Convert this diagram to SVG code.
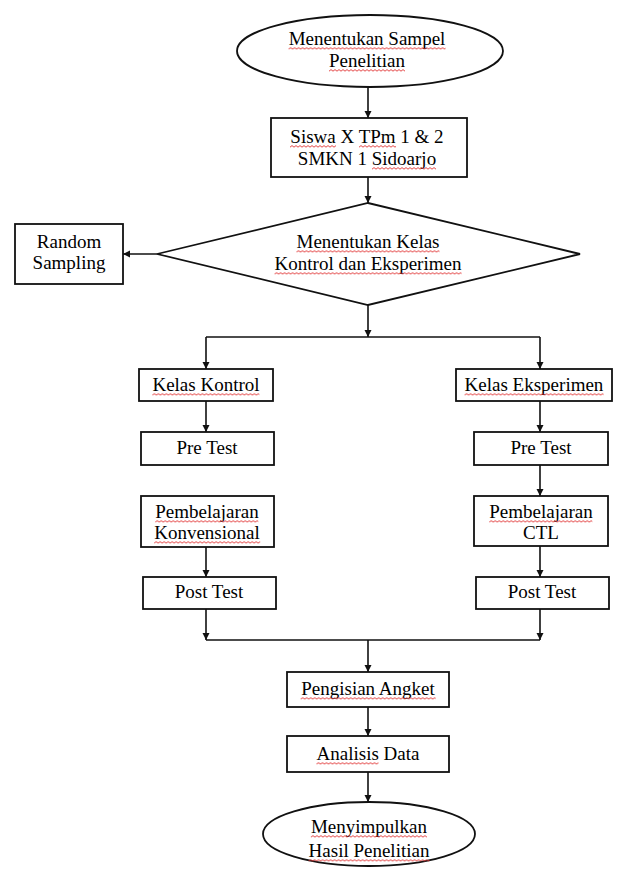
<svg xmlns="http://www.w3.org/2000/svg" width="626" height="869" viewBox="0 0 626 869">
<defs>
<style>
.n{fill:#fff;stroke:#111;stroke-width:1.8}
.t{font-family:"Liberation Serif","Times New Roman",serif;font-size:19px;fill:#000;text-anchor:middle}
.c{fill:none;stroke:#111;stroke-width:1.6}
.sq{fill:url(#sqp)}
</style>
<pattern id="sqp" patternUnits="userSpaceOnUse" width="4" height="3">
<path d="M0,2.2 L2,0.6 L4,2.2" fill="none" stroke="#e03030" stroke-width="0.9"/>
</pattern>
<marker id="ah" markerUnits="userSpaceOnUse" markerWidth="8" markerHeight="8" refX="7" refY="3.5" orient="auto">
<path d="M0,0 L7,3.5 L0,7 z" fill="#111"/>
</marker>
</defs>
<rect width="626" height="869" fill="#fff"/>

<g id="connectors" class="c">
<line x1="368" y1="87" x2="368" y2="118" marker-end="url(#ah)"/>
<line x1="368" y1="177" x2="368" y2="203" marker-end="url(#ah)"/>
<line x1="157" y1="254" x2="123" y2="254" marker-end="url(#ah)"/>
<line x1="368" y1="305" x2="368" y2="337" marker-end="url(#ah)"/>
<line x1="206" y1="337" x2="540" y2="337"/>
<line x1="206" y1="337" x2="206" y2="369" marker-end="url(#ah)"/>
<line x1="540" y1="337" x2="540" y2="369" marker-end="url(#ah)"/>
<line x1="206" y1="401" x2="206" y2="432" marker-end="url(#ah)"/>
<line x1="540" y1="401" x2="540" y2="432" marker-end="url(#ah)"/>
<line x1="540" y1="465" x2="540" y2="496" marker-end="url(#ah)"/>
<line x1="206" y1="547" x2="206" y2="577" marker-end="url(#ah)"/>
<line x1="540" y1="546" x2="540" y2="577" marker-end="url(#ah)"/>
<line x1="206" y1="609" x2="206" y2="640" marker-end="url(#ah)"/>
<line x1="540" y1="609" x2="540" y2="640" marker-end="url(#ah)"/>
<line x1="206" y1="640" x2="540" y2="640"/>
<line x1="368" y1="640" x2="368" y2="672" marker-end="url(#ah)"/>
<line x1="368" y1="707" x2="368" y2="736" marker-end="url(#ah)"/>
<line x1="368" y1="772" x2="368" y2="802" marker-end="url(#ah)"/>
</g>

<g id="start">
<ellipse class="n" cx="370" cy="51" rx="133" ry="36"/>
<text class="t" x="367" y="45">Menentukan Sampel</text>
<text class="t" x="367" y="67">Penelitian</text>
<rect class="sq" transform="translate(288.6,47)" width="157" height="3"/>
<rect class="sq" transform="translate(329,69)" width="76" height="3"/>
</g>

<g id="siswa">
<rect class="n" x="271" y="118" width="196" height="59"/>
<text class="t" x="367" y="143">Siswa X TPm 1 &amp; 2</text>
<text class="t" x="367" y="165">SMKN 1 Sidoarjo</text>
<rect class="sq" transform="translate(290,145)" width="46" height="3"/>
<rect class="sq" transform="translate(359,145)" width="37" height="3"/>
<rect class="sq" transform="translate(372,167)" width="64" height="3"/>
</g>

<g id="decision">
<polygon class="n" points="368,203 580,254 368,305 157,254"/>
<text class="t" x="368" y="248">Menentukan Kelas</text>
<text class="t" x="368" y="270">Kontrol dan Eksperimen</text>
<rect class="sq" transform="translate(296.5,250)" width="143" height="3"/>
<rect class="sq" transform="translate(274.6,272)" width="187" height="3"/>
</g>

<g id="random">
<rect class="n" x="15" y="224" width="108" height="60"/>
<text class="t" x="69" y="248">Random</text>
<text class="t" x="69" y="269">Sampling</text>
</g>

<g id="kelas-kontrol">
<rect class="n" x="139" y="369" width="134" height="32"/>
<text class="t" x="206" y="391">Kelas Kontrol</text>
<rect class="sq" transform="translate(152.4,393)" width="107" height="3"/>
</g>

<g id="kelas-eksperimen">
<rect class="n" x="456" y="369" width="156" height="32"/>
<text class="t" x="534" y="391">Kelas Eksperimen</text>
<rect class="sq" transform="translate(464.6,393)" width="139" height="3"/>
</g>

<g id="pretest-kontrol">
<rect class="n" x="141" y="432" width="133" height="33"/>
<text class="t" x="207" y="454">Pre Test</text>
</g>

<g id="pretest-eksperimen">
<rect class="n" x="474" y="432" width="134" height="33"/>
<text class="t" x="541" y="454">Pre Test</text>
</g>

<g id="pembelajaran-konvensional">
<rect class="n" x="141" y="496" width="133" height="51"/>
<text class="t" x="207" y="518">Pembelajaran</text>
<text class="t" x="207" y="539">Konvensional</text>
<rect class="sq" transform="translate(155.3,520)" width="103" height="3"/>
<rect class="sq" transform="translate(154.2,541)" width="106" height="3"/>
</g>

<g id="pembelajaran-ctl">
<rect class="n" x="474" y="496" width="134" height="50"/>
<text class="t" x="541" y="518">Pembelajaran</text>
<text class="t" x="541" y="539">CTL</text>
<rect class="sq" transform="translate(489.3,520)" width="103" height="3"/>
</g>

<g id="posttest-kontrol">
<rect class="n" x="143" y="577" width="133" height="32"/>
<text class="t" x="209" y="598">Post Test</text>
</g>

<g id="posttest-eksperimen">
<rect class="n" x="476" y="577" width="133" height="32"/>
<text class="t" x="542" y="598">Post Test</text>
</g>

<g id="angket">
<rect class="n" x="287" y="672" width="162" height="35"/>
<text class="t" x="368" y="695">Pengisian Angket</text>
<rect class="sq" transform="translate(300.7,697)" width="135" height="3"/>
</g>

<g id="analisis">
<rect class="n" x="287" y="736" width="162" height="36"/>
<text class="t" x="368" y="760">Analisis Data</text>
<rect class="sq" transform="translate(316.5,762)" width="62" height="3"/>
</g>

<g id="end">
<ellipse class="n" cx="369" cy="834" rx="106" ry="32"/>
<text class="t" x="369" y="833">Menyimpulkan</text>
<text class="t" x="369" y="857">Hasil Penelitian</text>
<rect class="sq" transform="translate(310.9,835)" width="116" height="3"/>
<rect class="sq" transform="translate(308.6,859)" width="121" height="3"/>
</g>
</svg>
